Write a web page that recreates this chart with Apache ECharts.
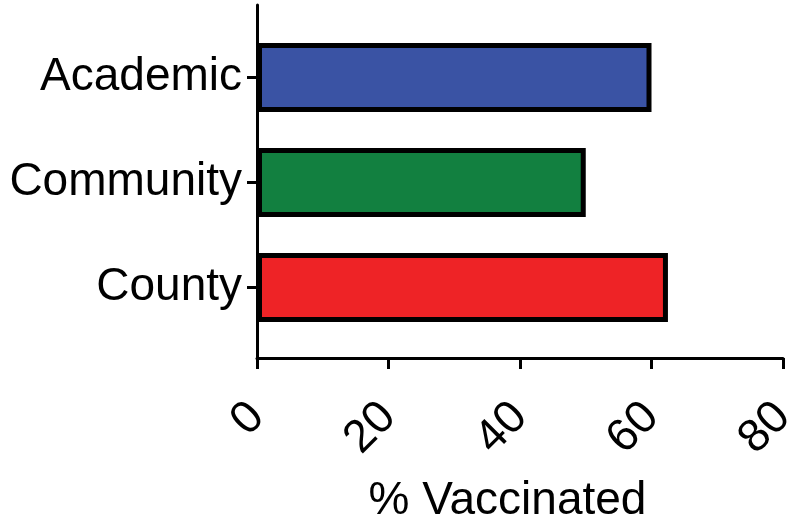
<!DOCTYPE html>
<html>
<head>
<meta charset="utf-8">
<script src="https://cdn.jsdelivr.net/npm/echarts@6/dist/echarts.min.js"></script>
<style>
  html, body { margin: 0; padding: 0; background: #fff; }
  #chart { width: 800px; height: 521px; }
</style>
</head>
<body>
<div id="chart"></div>
<script>
// values
const categories = ["Academic", "Community", "County"];
const vaccinated = [60, 50, 62.5];
const barColors = ["#3A53A4", "#128040", "#EE2326"];
const xTicks = [0, 20, 40, 60, 80];

const chart = echarts.init(document.getElementById("chart"));
const font = "Liberation Sans, Arial, Helvetica, sans-serif";

chart.setOption({
  animation: false,
  grid: [
    // bars live here
    { left: 257, right: 17, top: 25, height: 315, outerBoundsMode: "none" },
    // only used to draw the long vertical axis line
    { left: 257, right: 17, top: 5, height: 353, outerBoundsMode: "none" },
  ],
  xAxis: [
    {
      type: "value",
      gridIndex: 0,
      min: xTicks[0],
      max: xTicks[xTicks.length - 1],
      interval: 20,
      offset: 18,
      splitLine: { show: false },
      axisLine: { show: true, lineStyle: { color: "#000", width: 3 } },
      axisTick: { show: true, length: 11, lineStyle: { color: "#000", width: 3 } },
      axisLabel: {
        rotate: 45,
        margin: 52,
        color: "#000",
        fontFamily: font,
        fontSize: 46,
      },
      name: "% Vaccinated",
      nameLocation: "middle",
      nameGap: 120,
      nameTextStyle: {
        color: "#000",
        fontFamily: font,
        fontSize: 46,
        padding: [0, 25, 0, 0],
      },
    },
    { type: "value", gridIndex: 1, show: false, min: 0, max: 1 },
  ],
  yAxis: [
    {
      type: "category",
      gridIndex: 0,
      data: categories,
      inverse: true,
      axisLine: { show: false },
      axisTick: {
        show: true,
        alignWithLabel: true,
        length: 10,
        lineStyle: { color: "#000", width: 3 },
      },
      axisLabel: {
        margin: 15,
        color: "#000",
        fontFamily: font,
        fontSize: 46,
        padding: [0, 0, 28, 0],
      },
    },
    {
      type: "value",
      gridIndex: 1,
      min: 0,
      max: 1,
      axisLine: { show: true, lineStyle: { color: "#000", width: 3 } },
      axisTick: { show: false },
      axisLabel: { show: false },
      splitLine: { show: false },
    },
  ],
  series: [
    {
      type: "bar",
      xAxisIndex: 0,
      yAxisIndex: 0,
      barWidth: 69,
      data: vaccinated.map((v, i) => ({
        value: v,
        itemStyle: { color: barColors[i] },
      })),
      itemStyle: { borderColor: "#000", borderWidth: 5 },
    },
  ],
});
</script>
</body>
</html>
